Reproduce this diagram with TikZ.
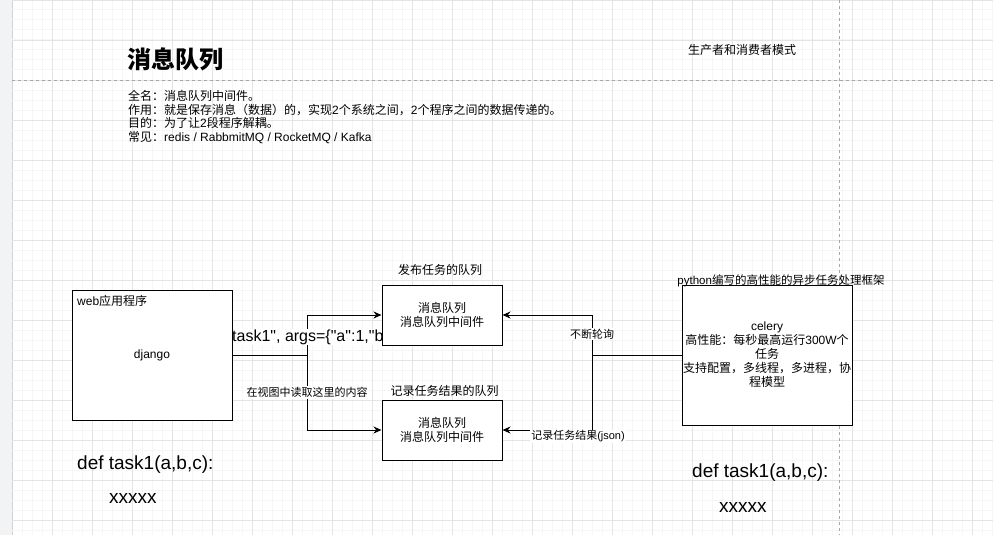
\documentclass[tikz,border=0pt]{standalone}
\usepackage{fontspec}
\setmainfont{Liberation Sans}[Ligatures=TeXOff]
\newfontfamily\cjk{Noto Sans CJK SC}
\usetikzlibrary{arrows.meta,positioning}
\pgfdeclarelayer{grid}
\pgfdeclarelayer{behind}
\pgfsetlayers{grid,behind,main}
\definecolor{gutter}{RGB}{241,243,245}
\definecolor{minorgrid}{RGB}{246,246,246}
\definecolor{majorgrid}{RGB}{228,228,228}
\begin{document}
\begin{tikzpicture}[x=1pt, y=-1pt, >={Stealth[length=8pt,width=7pt]},
	box/.style={draw, line width=1pt, fill=white, inner sep=0pt, align=center, font=\fontsize{12}{14}\selectfont},
	edgelbl/.style={fill=white, inner sep=1pt, font=\fontsize{11}{13}\selectfont},
	toplbl/.style={inner sep=0pt, font=\fontsize{12}{14}\selectfont},
	code/.style={inner sep=0pt, anchor=west, font=\fontsize{19}{22}\selectfont},
	guide/.style={gray!70, dashed, dash pattern=on 3pt off 3pt, line width=0.8pt}]
	
	% paper and grid
	\useasboundingbox (0,0) rectangle (993,535);
	\begin{pgfonlayer}{grid}
		\fill[white] (0,0) rectangle (993,535);
		\fill[gutter] (0,0) rectangle (11.5,535);
		\draw[gray!35, line width=1pt] (12,0) -- (12,535);
		\foreach \x in {22,32,...,992} \draw[minorgrid, line width=1pt] (\x,0) -- (\x,535);
		\foreach \y in {10,20,...,530} \draw[minorgrid, line width=1pt] (12,\y) -- (993,\y);
		\foreach \x in {52,92,...,972} \draw[majorgrid, line width=1pt] (\x,0) -- (\x,535);
		\foreach \y in {0.5,40.5,...,520.5} \draw[majorgrid, line width=1pt] (12,\y) -- (993,\y);
		\draw[guide] (12,80) -- (993,80);
		\draw[guide] (839.5,0) -- (839.5,535);
	\end{pgfonlayer}
	
	% header
	\node[inner sep=0pt, anchor=west, font=\fontsize{24}{28}\selectfont] (title) at (127,59) {\cjk\bfseries 消息队列};
	\node[toplbl] (mode) at (742,50) {\cjk 生产者和消费者模式};
	\node[inner sep=0pt, anchor=north west, align=left, font=\fontsize{12}{13.7}\selectfont] (notes) at (128,90) {%
		{\cjk 全名：消息队列中间件。}\\
		{\cjk 作用：就是保存消息（数据）的，实现}2{\cjk 个系统之间，}2{\cjk 个程序之间的数据传递的。}\\
		{\cjk 目的：为了让}2{\cjk 段程序解耦。}\\
		{\cjk 常见：}redis / RabbmitMQ / RocketMQ / Kafka};
	
	% boxes
	\node[box, minimum width=160pt, minimum height=130pt] (dj) at (152,355) {django};
	\node[inner sep=0pt, anchor=west, font=\fontsize{12}{14}\selectfont] (djname) at (77,300.5) {web{\cjk 应用程序}};
	\node[box, minimum width=120pt, minimum height=60pt] (q1) at (442,315) {\cjk 消息队列\\\cjk 消息队列中间件};
	\node[box, minimum width=120pt, minimum height=60pt] (q2) at (442,430) {\cjk 消息队列\\\cjk 消息队列中间件};
	\node[box, minimum width=170pt, minimum height=140pt] (cel) at (767,355) {celery\\{\cjk 高性能：每秒最高运行}300W{\cjk 个}\\{\cjk 任务}\\{\cjk 支持配置，多线程，多进程，协}\\{\cjk 程模型}};
	\node[toplbl] (q1name) at (440,270) {\cjk 发布任务的队列};
	\node[toplbl] (q2name) at (444.5,390.5) {\cjk 记录任务结果的队列};
	\node[toplbl, font=\fontsize{11.5}{14}\selectfont] (celname) at (781,280.5) {python{\cjk 编写的高性能的异步任务处理框架}};
	
	% connectors
	\coordinate (jl) at (307,355);
	\coordinate (jr) at (592,355);
	\begin{pgfonlayer}{behind}
		\draw[line width=1pt, ->] (dj.east) -- (jl) |- (q1.west);
		\draw[line width=1pt, ->] (jl) |- (q2.west);
		\draw[line width=1pt, ->] (cel.west) -- (jr) |- (q1.east);
		\draw[line width=1pt, ->] (jr) |- (q2.east);
		\node[fill=white, inner sep=1pt, anchor=west, font=\fontsize{16}{19}\selectfont] (task) at (231,337) {task1", args=\{"a":1,"b};
		\node[edgelbl] (readlbl) at (307,392.5) {\cjk 在视图中读取这里的内容};
		\node[edgelbl] (polllbl) at (592,334) {\cjk 不断轮询};
		\node[edgelbl] (reslbl) at (578,436.5) {{\cjk 记录任务结果}(json)};
	\end{pgfonlayer}
	
	% code notes
	\node[code] (defl) at (77,465) {def task1(a,b,c):};
	\node[code] (xl) at (109,498) {xxxxx};
	\node[code] (defr) at (692,473) {def task1(a,b,c):};
	\node[code] (xr) at (719,507.5) {xxxxx};
	
\end{tikzpicture}
\end{document}
